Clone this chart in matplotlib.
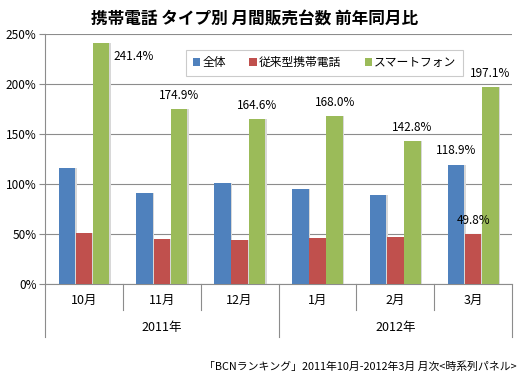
import numpy as np
import matplotlib.pyplot as plt
import matplotlib.transforms as mtransforms

plt.rcParams['font.family'] = ['Noto Sans CJK JP', 'DejaVu Sans']

months = ['10月', '11月', '12月', '1月', '2月', '3月']
years = ['2011年', '2012年']
series = ['全体', '従来型携帯電話', 'スマートフォン']
total = [115.5, 90.5, 100.5, 94.5, 88.5, 118.9]
feature = [51.5, 45.5, 44.0, 45.7, 46.8, 49.8]
smart = [241.4, 174.9, 164.6, 168.0, 142.8, 197.1]
colors = ['#4F81BD', '#C0504D', '#9BBB59']

fig = plt.figure(figsize=(5.2, 3.8), dpi=100)
ax = fig.add_axes([0.0865, 0.2526, 0.8985, 0.658])

x = np.arange(len(months))
w = 0.21
off = 0.22
for i, (vals, c) in enumerate(zip([total, feature, smart], colors)):
    xs = x + (i - 1) * off
    # light shadow like the original
    ax.bar(xs + 0.02, vals, w, color='#d8d8d8', zorder=2)
    ax.bar(xs, vals, w, color=c, label=series[i], zorder=3)

# data labels
fs = 8.5
for k in range(len(months)):
    if k == 0:
        ax.annotate(f'{smart[k]:.1f}%', (x[k] + off + w / 2, smart[k]),
                    xytext=(3, -10), textcoords='offset points',
                    ha='left', va='center', fontsize=fs)
    else:
        ax.annotate(f'{smart[k]:.1f}%', (x[k] + off, smart[k]),
                    xytext=(0, 5), textcoords='offset points',
                    ha='center', va='bottom', fontsize=fs)
ax.annotate(f'{total[5]:.1f}%', (x[5] - off, total[5]), xytext=(0, 6),
            textcoords='offset points', ha='center', va='bottom', fontsize=fs)
ax.annotate(f'{feature[5]:.1f}%', (x[5], feature[5]), xytext=(0, 5),
            textcoords='offset points', ha='center', va='bottom', fontsize=fs)

ax.set_xlim(-0.5, 5.5)
ax.set_ylim(0, 250)
ax.set_yticks(np.arange(0, 251, 50))
ax.set_yticklabels([f'{v}%' for v in range(0, 251, 50)], fontsize=fs)
ax.yaxis.grid(True, color='#8c8c8c', linewidth=0.8, zorder=0)
ax.set_axisbelow(True)
ax.tick_params(axis='y', length=4, color='#8c8c8c', pad=2)
ax.set_xticks([])
for s in ['top', 'right']:
    ax.spines[s].set_visible(False)
ax.spines['left'].set_color('#8c8c8c')
ax.spines['bottom'].set_color('#8c8c8c')

# two-level category axis
trans = mtransforms.blended_transform_factory(ax.transData, ax.transAxes)
for b in np.arange(-0.5, 6, 1.0):
    low = -0.212 if b in (-0.5, 2.5, 5.5) else -0.104
    ax.plot([b, b], [0, low], color='#8c8c8c', lw=0.8, transform=trans, clip_on=False)
for k, m in enumerate(months):
    ax.text(x[k], -0.064, m, transform=trans, ha='center', va='center', fontsize=9)
for j, yr in enumerate(years):
    ax.text(1 + 3 * j, -0.172, yr, transform=trans, ha='center', va='center', fontsize=9)

leg = ax.legend(loc='upper left', bbox_to_anchor=(0.29, 0.96), ncol=3, fontsize=8.5,
                frameon=True, fancybox=False, edgecolor='#bfbfbf', handlelength=0.6,
                handleheight=0.6, handletextpad=0.2, columnspacing=2.0,
                borderpad=0.55)
leg.get_frame().set_linewidth(0.8)

fig.text(0.49, 0.952, '携帯電話 タイプ別 月間販売台数 前年同月比', ha='center', va='center',
         fontsize=12, fontweight='bold')
fig.text(0.993, 0.034, '「BCNランキング」2011年10月-2012年3月 月次<時系列パネル>',
         ha='right', va='center', fontsize=7.8)

fig.savefig('out.png', dpi=100)
